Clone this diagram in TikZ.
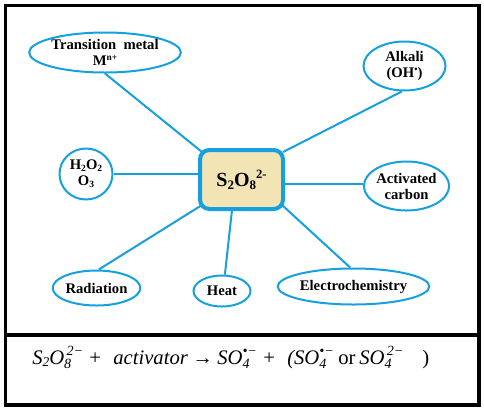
\documentclass[tikz,border=0pt]{standalone}
\usepackage{fontspec}
\usetikzlibrary{shapes.geometric}
\setmainfont{Liberation Serif}
\definecolor{lblue}{RGB}{22,160,222}
\definecolor{tan}{RGB}{242,228,180}
\newcommand{\stk}[2]{\rlap{\raisebox{-0.5ex}{\fontsize{0.68em}{0.7em}\selectfont #1}}\raisebox{0.95ex}{\fontsize{0.68em}{0.7em}\selectfont #2}}
\newcommand{\lo}[1]{\raisebox{-0.3ex}{\fontsize{0.65em}{0.7em}\selectfont #1}}
\begin{document}
\begin{tikzpicture}[x=0.75pt,y=-0.75pt,
  bub/.style={ellipse,draw=lblue,line width=1.5pt,fill=white,inner sep=0pt,align=center,font=\fontsize{11}{12}\selectfont\bfseries},
  link/.style={draw=lblue,line width=1.5pt},
  eqp/.style={anchor=base west,inner sep=0pt,font=\fontsize{15.5}{17}\selectfont\itshape}]
\useasboundingbox (0,0) rectangle (484,408);
\fill[white] (0,0) rectangle (484,408);
\draw[line width=2.6pt] (5.5,5.5) rectangle (479,405);
\draw[line width=2.6pt] (5.5,335) -- (479,335);
\node[draw=lblue,line width=3pt,fill=tan,rounded corners=7pt,minimum width=83*0.75pt,minimum height=59*0.75pt,font=\fontsize{15}{16}\selectfont\bfseries] (c) at (241.5,179.5) {S\lo{2}O\lo{8}\raisebox{0.9ex}{\fontsize{9.5}{10}\selectfont 2-}};
\node[bub,minimum width=140*0.75pt,minimum height=40*0.75pt] (tm) at (105,52.5) {Transition~~metal\\M\raisebox{0.7ex}{\fontsize{7}{8}\selectfont n+}};
\node[bub,minimum width=82*0.75pt,minimum height=49*0.75pt] (al) at (404.5,66) {Alkali\\(OH\raisebox{0.7ex}{\fontsize{7}{8}\selectfont •})};
\node[bub,minimum width=53*0.75pt,minimum height=51*0.75pt] (h2) at (86,174) {H\lo{2}O\lo{2}\\O\lo{3}};
\node[bub,minimum width=74*0.75pt,minimum height=49*0.75pt] (ac) at (406.5,186) {Activated\\carbon};
\node[bub,minimum width=84*0.75pt,minimum height=35*0.75pt] (ra) at (96.5,288) {Radiation};
\node[bub,minimum width=57*0.75pt,minimum height=31*0.75pt] (he) at (222,291) {Heat};
\node[bub,minimum width=124*0.75pt,minimum height=36*0.75pt] (el) at (353.5,286.5) {Electrochemistry};
\coordinate (cnw) at (202,152);
\coordinate (cne) at (283,152);
\coordinate (csw) at (202,205);
\coordinate (cse) at (282,205);
\coordinate (cs) at (232,210);
\draw[link] (tm.-90) -- (cnw);
\draw[link] (al.-96) -- (cne);
\draw[link] (h2.east) -- (h2.east -| c.west);
\draw[link] (ac.west |- 0,184) -- (c.east |- 0,184);
\draw[link] (ra.83) -- (csw);
\draw[link] (he.80) -- (cs);
\draw[link] (el.100) -- (cse);
\node[eqp] (e1) at (32,364) {S\lo{2}O\stk{8}{\,2−}};
\node[eqp,font=\fontsize{15.5}{17}\selectfont] (e2) at (89,364) {+};
\node[eqp] (e3) at (113,364) {activator};
\node[eqp,font=\fontsize{15.5}{17}\selectfont] (e4) at (192,364) {→};
\node[eqp] (e5) at (217,364) {SO\stk{4}{•−}};
\node[eqp,font=\fontsize{15.5}{17}\selectfont] (e6) at (263,364) {+};
\node[eqp] (e7) at (287,364) {(SO\stk{4}{•−}};
\node[eqp,font=\fontsize{15.5}{17}\selectfont] (e8) at (338,364) {or};
\node[eqp] (e9) at (359,364) {SO\stk{4}{\,2−}};
\node[eqp,font=\fontsize{15.5}{17}\selectfont] (e10) at (422,364) {)};
\end{tikzpicture}
\end{document}
